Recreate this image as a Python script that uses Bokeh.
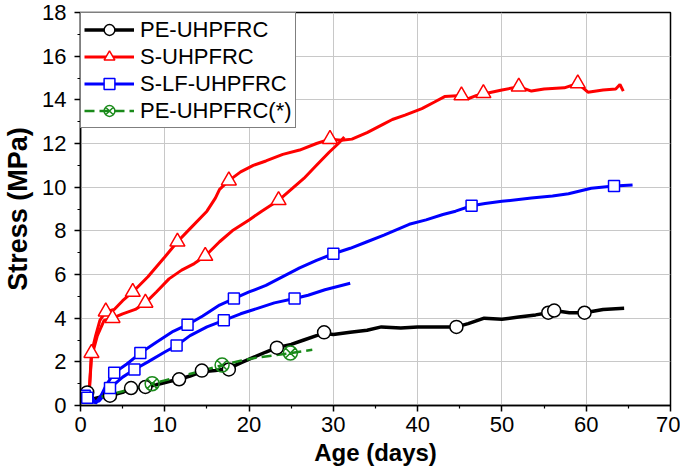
from bokeh.plotting import figure
from bokeh.models import Range1d, Legend, LegendItem, FixedTicker
from bokeh.embed import file_html
from bokeh.resources import INLINE

# ---------------- data ----------------
# PE-UHPFRC (black)
pe_x = [0.3, 0.8, 1.5, 2.5, 3.5, 5.0, 6.0, 7.7, 9.0, 10.5, 11.7, 13.0, 14.4, 16.0, 17.6, 19.0,
        20.5, 22.0, 23.3, 25.0, 26.5, 28.0, 29.0, 30.0, 32.0, 34.0, 35.7, 38.0, 40.0, 42.8,
        44.6, 46.0, 47.9, 50.0, 52.0, 54.0, 55.5, 56.2, 58.0, 59.8, 62.0, 64.5]
pe_y = [0.6, 0.8, 0.3, 0.4, 0.45, 0.6, 0.8, 0.85, 0.95, 1.1, 1.2, 1.35, 1.55, 1.6, 1.7, 1.95,
        2.2, 2.45, 2.65, 2.8, 3.0, 3.2, 3.3, 3.25, 3.35, 3.45, 3.6, 3.55, 3.6, 3.6,
        3.6, 3.75, 4.0, 3.95, 4.05, 4.15, 4.25, 4.35, 4.25, 4.25, 4.4, 4.45]
pe_mx = [0.8, 3.5, 6.0, 7.7, 11.7, 14.4, 17.6, 23.3, 28.9, 44.6, 55.5, 56.2, 59.8]
pe_my = [0.6, 0.45, 0.8, 0.85, 1.2, 1.6, 1.65, 2.65, 3.35, 3.6, 4.25, 4.35, 4.25]

# S-UHPFRC (red), specimen 1 (long) and specimen 2 (short)
s1_x = [1.0, 1.3, 1.8, 2.3, 3.0, 4.0, 5.0, 6.2, 8.0, 10.0, 11.5, 13.0, 15.0, 16.0, 16.5, 17.6,
        19.0, 20.5, 22.0, 24.0, 26.0, 28.0, 29.6, 31.0, 32.2, 34.0, 36.0, 37.0, 38.5, 40.5,
        42.0, 43.2, 45.2, 46.0, 47.0, 48.2, 50.0, 52.0, 53.5, 55.0, 57.4, 59.0, 60.2, 62.0,
        63.5, 64.0, 64.4]
s1_y = [0.4, 2.4, 3.2, 3.9, 4.3, 4.4, 4.8, 5.2, 5.9, 6.8, 7.5, 8.1, 8.9, 9.5, 9.9, 10.3,
        10.7, 11.0, 11.2, 11.5, 11.7, 12.0, 12.2, 12.15, 12.2, 12.5, 12.9, 13.1, 13.3, 13.6,
        13.9, 14.15, 14.2, 14.05, 14.2, 14.3, 14.45, 14.6, 14.4, 14.5, 14.55, 14.75, 14.35, 14.45,
        14.5, 14.7, 14.4]
s1_mx = [1.3, 3.0, 6.2, 11.5, 17.6, 29.6, 45.2, 47.8, 52.0, 59.0]
s1_my = [2.4, 4.3, 5.2, 7.5, 10.3, 12.2, 14.2, 14.3, 14.6, 14.75]
s2_x = [1.0, 1.3, 2.0, 2.8, 3.8, 5.0, 6.5, 7.7, 9.0, 10.5, 12.0, 13.5, 14.8, 16.5, 18.0, 20.0,
        21.5, 23.5, 25.0, 26.5, 28.0, 29.5, 30.6, 31.3]
s2_y = [0.4, 2.2, 3.2, 3.9, 4.0, 4.2, 4.4, 4.7, 5.2, 5.8, 6.2, 6.5, 6.85, 7.5, 8.0, 8.5,
        8.9, 9.4, 9.9, 10.4, 11.0, 11.6, 12.0, 12.3]
s2_mx = [3.8, 7.7, 14.8, 23.5]
s2_my = [4.0, 4.7, 6.85, 9.4]

# S-LF-UHPFRC (blue), specimen 1 (long) and specimen 2 (short)
l1_x = [0.3, 0.8, 1.2, 1.8, 2.5, 3.0, 4.0, 5.5, 7.1, 9.0, 11.0, 12.7, 14.5, 16.5, 18.2, 20.0,
        22.0, 24.0, 26.0, 28.0, 30.0, 32.0, 34.0, 36.0, 39.0, 41.0, 43.0, 44.5, 46.4, 48.0,
        50.0, 53.5, 56.0, 57.9, 60.6, 63.3, 65.5]
l1_y = [0.5, 0.35, 0.5, 0.1, 0.5, 0.9, 1.5, 1.9, 2.4, 2.9, 3.4, 3.7, 4.1, 4.6, 4.9, 5.2,
        5.5, 5.9, 6.3, 6.65, 6.95, 7.2, 7.5, 7.8, 8.3, 8.5, 8.75, 8.9, 9.15, 9.25,
        9.35, 9.5, 9.6, 9.7, 9.95, 10.05, 10.1]
l1_mx = [0.5, 4.0, 7.1, 12.7, 18.2, 30.0, 46.4, 63.3]
l1_my = [0.45, 1.5, 2.4, 3.7, 4.9, 6.95, 9.15, 10.05]
l2_x = [0.3, 0.8, 1.5, 2.2, 3.5, 5.0, 6.4, 8.0, 10.0, 11.4, 13.0, 15.0, 17.0, 19.0, 21.0,
        23.0, 25.4, 27.0, 29.0, 30.5, 32.0]
l2_y = [0.3, 0.35, 0.15, 0.2, 0.8, 1.3, 1.65, 2.0, 2.45, 2.75, 3.2, 3.6, 3.9, 4.2, 4.45,
        4.7, 4.9, 5.05, 5.3, 5.45, 5.6]
l2_mx = [0.8, 3.5, 6.4, 11.4, 17.0, 25.4]
l2_my = [0.35, 0.8, 1.65, 2.75, 3.9, 4.9]

# PE-UHPFRC(*) (green, dashed)
g_x = [2.5, 4.0, 6.0, 8.5, 10.0, 12.0, 14.0, 16.8, 19.0, 21.0, 23.0, 24.9, 27.5]
g_y = [0.4, 0.55, 0.75, 1.0, 1.15, 1.35, 1.55, 1.85, 2.05, 2.2, 2.3, 2.4, 2.55]
g_mx = [8.5, 16.8, 24.9]
g_my = [1.0, 1.85, 2.4]

labels = ["PE-UHPFRC", "S-UHPFRC", "S-LF-UHPFRC", "PE-UHPFRC(*)"]
x_ticks = [0, 10, 20, 30, 40, 50, 60, 70]
y_ticks = [0, 2, 4, 6, 8, 10, 12, 14, 16, 18]

# ---------------- figure ----------------
FONT = "Liberation Sans"
p = figure(width=680, height=472, output_backend="svg", toolbar_location=None,
           x_range=Range1d(0, 70), y_range=Range1d(0, 18),
           min_border_left=78, min_border_right=10, min_border_top=12, min_border_bottom=67)
p.background_fill_color = "white"
p.border_fill_color = "white"
p.outline_line_color = "black"
p.outline_line_width = 1.5

for ax in (p.xaxis[0], p.yaxis[0]):
    ax.axis_line_color = "black"
    ax.axis_line_width = 1.5
    ax.major_tick_line_color = "black"
    ax.major_tick_line_width = 1.5
    ax.minor_tick_line_color = "black"
    ax.minor_tick_line_width = 1.2
    ax.major_tick_in = 0
    ax.major_tick_out = 6
    ax.minor_tick_in = 0
    ax.minor_tick_out = 3
    ax.major_label_text_font = FONT
    ax.major_label_text_font_size = "22px"
    ax.major_label_text_color = "black"
    ax.axis_label_text_font = FONT
    ax.axis_label_text_font_style = "bold"
    ax.axis_label_text_color = "black"

p.xaxis.ticker = FixedTicker(ticks=x_ticks, minor_ticks=[v + 5 for v in x_ticks[:-1]])
p.yaxis.ticker = FixedTicker(ticks=y_ticks, minor_ticks=[v + 1 for v in y_ticks[:-1]])
p.xaxis.axis_label = "Age (days)"
p.yaxis.axis_label = "Stress (MPa)"
p.xaxis.axis_label_text_font_size = "24px"
p.yaxis.axis_label_text_font_size = "27px"
p.xaxis.major_label_standoff = 5
p.xaxis.axis_label_standoff = 4
p.yaxis.major_label_standoff = 8
p.yaxis.axis_label_standoff = 6

p.xgrid.ticker = FixedTicker(ticks=x_ticks)
p.ygrid.ticker = FixedTicker(ticks=y_ticks)
p.grid.grid_line_color = "#c8c8c8"
p.grid.grid_line_width = 1

BLACK, RED, BLUE, GREEN = "#000000", "#ff0000", "#0000ff", "#1a8a1a"
LW = 3

# lines
pe_line = p.line(pe_x, pe_y, line_color=BLACK, line_width=3.5)
s1_line = p.line(s1_x, s1_y, line_color=RED, line_width=LW)
p.line(s2_x, s2_y, line_color=RED, line_width=LW)
l1_line = p.line(l1_x, l1_y, line_color=BLUE, line_width=LW)
p.line(l2_x, l2_y, line_color=BLUE, line_width=LW)
g_line = p.line(g_x, g_y, line_color=GREEN, line_width=2.5, line_dash="10 5")

# markers
pe_m = p.scatter(pe_mx, pe_my, marker="circle", size=13, line_color=BLACK, line_width=1.5,
                 fill_color="white")
s1_m = p.scatter(s1_mx, s1_my, marker="triangle", size=15, line_color=RED, line_width=1.5,
                 fill_color="white")
p.scatter(s2_mx, s2_my, marker="triangle", size=15, line_color=RED, line_width=1.5,
          fill_color="white")
l1_m = p.scatter(l1_mx, l1_my, marker="square", size=11, line_color=BLUE, line_width=1.5,
                 fill_color="white")
p.scatter(l2_mx, l2_my, marker="square", size=11, line_color=BLUE, line_width=1.5,
          fill_color="white")
g_m = p.scatter(g_mx, g_my, marker="circle_x", size=14, line_color=GREEN, line_width=1.5,
                fill_color=None)

legend = Legend(items=[
    LegendItem(label=labels[0], renderers=[pe_line, pe_m]),
    LegendItem(label=labels[1], renderers=[s1_line, s1_m]),
    LegendItem(label=labels[2], renderers=[l1_line, l1_m]),
    LegendItem(label=labels[3], renderers=[g_line, g_m]),
], location="top_left")
legend.border_line_color = "black"
legend.border_line_width = 1.5
legend.background_fill_color = "white"
legend.background_fill_alpha = 1.0
legend.label_text_font = FONT
legend.label_text_font_size = "22px"
legend.label_text_color = "black"
legend.glyph_width = 50
legend.glyph_height = 27
legend.label_height = 27
legend.spacing = 0
legend.padding = 3
legend.margin = 0
legend.label_standoff = 6
p.add_layout(legend)

open("out.html", "w").write(file_html(p, INLINE))
